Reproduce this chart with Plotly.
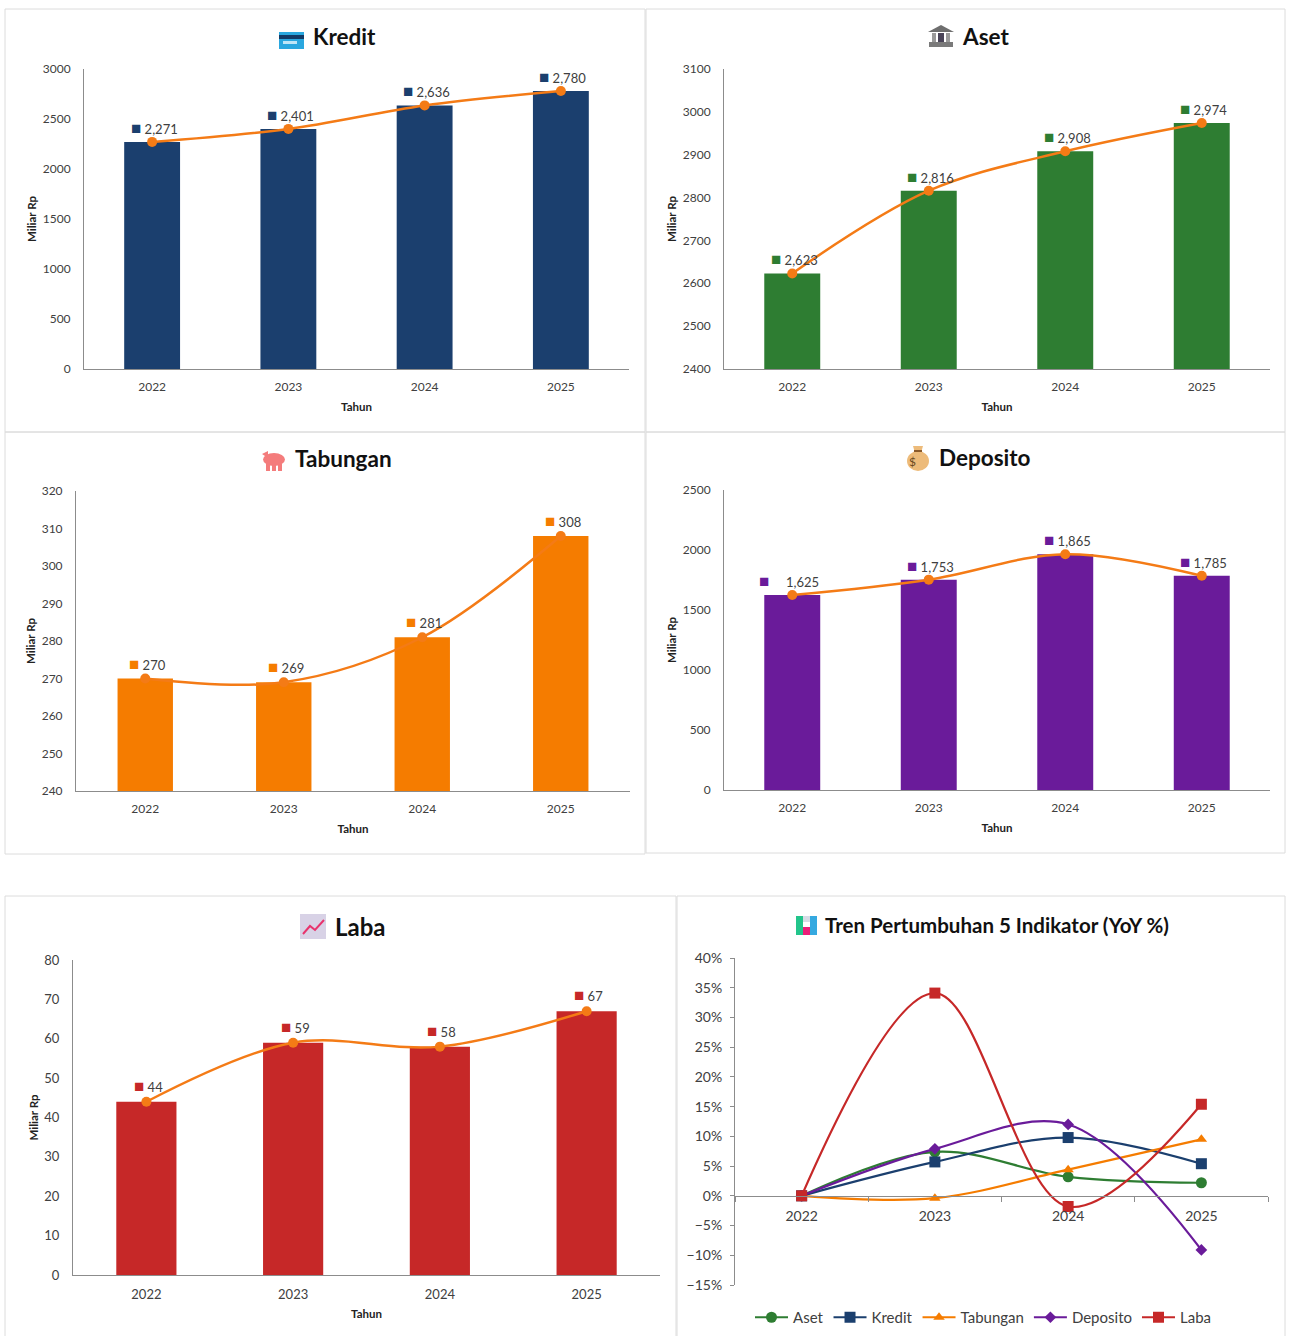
import plotly.graph_objects as go

W, H = 1290, 1336
FONT = "Lato"
ORANGE = "#F47B16"
TXT = "#404040"
AX = "#8C8C8C"

years = ["2022", "2023", "2024", "2025"]
kredit = [2271, 2401, 2636, 2780]
aset = [2623, 2816, 2908, 2974]
tabungan = [270, 269, 281, 308]
deposito = [1625, 1753, 1965, 1785]
laba = [44, 59, 58, 67]
kredit_labels = ["2,271", "2,401", "2,636", "2,780"]
aset_labels = ["2,623", "2,816", "2,908", "2,974"]
tabungan_labels = ["270", "269", "281", "308"]
deposito_labels = ["1,625", "1,753", "1,865", "1,785"]
laba_labels = ["44", "59", "58", "67"]
g_aset = [0, 7.4, 3.2, 2.2]
g_kredit = [0, 5.7, 9.8, 5.4]
g_tabungan = [0, -0.4, 4.4, 9.5]
g_deposito = [0, 7.9, 12.0, -9.1]
g_laba = [0, 34.1, -1.8, 15.4]


def px(x):
    return x / W


def py(y):
    return 1 - y / H


fig = go.Figure()
shapes = []
annots = []


def rect(x0, y0, x1, y1, fill, line=None, kind="rect"):
    shapes.append(dict(type=kind, xref="paper", yref="paper", x0=px(x0), x1=px(x1), y0=py(y1), y1=py(y0),
                       fillcolor=fill, line=dict(color=line or fill, width=1 if line else 0), layer="above"))


def poly(points, fill=None, line=None, width=1.5):
    path = "M " + " L ".join(f"{px(a):.5f} {py(b):.5f}" for a, b in points)
    if fill:
        path += " Z"
    shapes.append(dict(type="path", xref="paper", yref="paper", path=path,
                       fillcolor=fill or "rgba(0,0,0,0)", line=dict(color=line or fill, width=width if line else 0), layer="above"))


def title(text, x, y, size=22.5):
    annots.append(dict(xref="paper", yref="paper", x=px(x), y=py(y), text=f"<b>{text}</b>", showarrow=False,
                       xanchor="left", yanchor="middle", font=dict(family=FONT, size=size, color="#111111")))


# Panel frames
for x0, y0, x1, y1 in [(5, 9, 645, 432), (646, 9, 1285, 432), (5, 432, 645, 854), (646, 432, 1285, 853), (5, 896, 676, 1340), (677, 896, 1285, 1340)]:
    shapes.append(dict(type="rect", xref="paper", yref="paper", x0=px(x0), x1=px(x1), y0=py(y1), y1=py(y0),
                       fillcolor="rgba(0,0,0,0)", line=dict(color="#DCDCDC", width=1), layer="below"))


def bar_panel(n, values, labels, color, box, yr, dtick, bw, lab_dy, tick_size=12, wide_gap=()):
    xa, ya = f"x{n}", f"y{n}"
    fig.add_trace(go.Bar(x=years, y=values, marker=dict(color=color, line=dict(width=0)), width=bw, xaxis=xa, yaxis=ya, showlegend=False))
    fig.add_trace(go.Scatter(x=years, y=values, mode="lines+markers", line=dict(color=ORANGE, width=2.5, shape="spline", smoothing=1),
                             marker=dict(color=ORANGE, size=10), xaxis=xa, yaxis=ya, showlegend=False))
    x0, y0, x1, y1 = box
    axis = dict(showline=True, linecolor=AX, linewidth=1, showgrid=False, zeroline=False, color=TXT,
                tickfont=dict(family=FONT, size=tick_size, color=TXT))
    fig.update_layout({
        f"xaxis{n}": dict(axis, domain=[px(x0), px(x1)], anchor=ya, type="category", range=[-0.5, 3.5], ticks="", ticklabelstandoff=7,
                          title=dict(text="<b>Tahun</b>", font=dict(family=FONT, size=11.5, color="#222222"), standoff=9)),
        f"yaxis{n}": dict(axis, domain=[py(y1), py(y0)], anchor=xa, range=yr, dtick=dtick, ticks="", ticklabelstandoff=10,
                          title=dict(text="<b>Miliar Rp</b>", font=dict(family=FONT, size=11.5, color="#222222"), standoff=3)),
    })
    for i, (v, lab) in enumerate(zip(values, labels)):
        gap = "\u00a0\u00a0\u00a0\u00a0" if i in wide_gap else ""
        annots.append(dict(xref=xa, yref=ya, x=i, y=v, text=f'<span style="color:{color};font-size:17px">■</span> {gap}{lab}', showarrow=False,
                           xanchor="center", yanchor="bottom", xshift=-3 if gap else 2, yshift=lab_dy,
                           font=dict(family=FONT, size=13, color=TXT)))


bar_panel(1, kredit, kredit_labels, "#1B3F6E", (84, 69, 629, 369), [0, 3000], 500, 0.41, 2)
bar_panel(2, aset, aset_labels, "#2E7D32", (724, 69, 1270, 369), [2400, 3100], 100, 0.41, 2)
bar_panel(3, tabungan, tabungan_labels, "#F57C00", (76, 491, 630, 791), [240, 320], 10, 0.40, 3)
bar_panel(4, deposito, deposito_labels, "#6A1B9A", (724, 490, 1270, 790), [0, 2500], 500, 0.41, 2, wide_gap=(0,))
bar_panel(5, laba, laba_labels, "#C62828", (73, 960, 660, 1275), [0, 80], 10, 0.41, 4, 13)

# Growth panel
series = [
    ("Aset", g_aset, "#2E7D32", "circle", 11),
    ("Kredit", g_kredit, "#1B3F6E", "square", 11),
    ("Tabungan", g_tabungan, "#F57C00", "triangle-up", 10),
    ("Deposito", g_deposito, "#6A1B9A", "diamond", 9),
    ("Laba", g_laba, "#C62828", "square", 11),
]
for name, vals, col, sym, size in series:
    fig.add_trace(go.Scatter(x=years, y=vals, name=name, mode="lines+markers", xaxis="x6", yaxis="y6",
                             line=dict(color=col, width=2.2, shape="spline", smoothing=1),
                             marker=dict(color=col, symbol=sym, size=size)))
fig.update_layout(
    xaxis6=dict(domain=[px(735), px(1268)], anchor="free", position=py(1196), type="category", range=[-0.5, 3.5], tickson="boundaries",
                ticks="outside", ticklen=5, tickcolor=AX, showline=True, linecolor=AX, linewidth=1, showgrid=False,
                zeroline=False, tickfont=dict(family=FONT, size=14, color=TXT), ticklabelstandoff=7),
    yaxis6=dict(domain=[py(1285), py(958)], anchor="x6", range=[-15, 40], dtick=5, ticksuffix="%", ticks="outside", ticklen=4,
                tickcolor=AX, showline=True, linecolor=AX, linewidth=1, showgrid=False, zeroline=False, ticklabelstandoff=5,
                tickfont=dict(family=FONT, size=14, color=TXT)),
    legend=dict(orientation="h", x=px(750), y=py(1301), xanchor="left", yanchor="top", font=dict(family=FONT, size=15, color=TXT),
                itemwidth=33, tracegroupgap=0, bgcolor="rgba(0,0,0,0)"),
)

# Titles and hand-drawn icons
title("Kredit", 311, 36)
rect(279, 32, 304, 49, "#2AA7DF")
rect(279, 35, 304, 39, "#123A66")
rect(283, 41, 297, 44, "#BFE6F7")

title("Aset", 960, 36)
rect(929, 42, 953, 47, "#7A7A7A")
rect(932, 33, 936, 42, "#9A9A9A")
rect(938, 33, 944, 42, "#4A4458")
rect(946, 33, 950, 42, "#9A9A9A")
poly([(928, 32), (941, 25), (954, 32)], fill="#6E6E6E")

title("Tabungan", 293, 458)
rect(263, 453, 285, 466, "#F47C7C", kind="circle")
rect(266, 464, 270, 471, "#F47C7C")
rect(272, 465, 276, 471, "#F47C7C")
rect(278, 464, 282, 471, "#F47C7C")
poly([(262, 454), (268, 451), (268, 458)], fill="#F47C7C")

title("Deposito", 937, 457)
rect(907, 451, 929, 471, "#EDBB7A", kind="circle")
poly([(913, 446), (923, 446), (921, 453), (915, 453)], fill="#EDBB7A")
rect(914, 450, 922, 452, "#8A5A2B")
annots.append(dict(xref="paper", yref="paper", x=px(918), y=py(461), text="$", showarrow=False,
                   font=dict(family=FONT, size=12, color="#6B4A22")))

title("Laba", 333, 926, 24)
rect(300, 914, 326, 939, "#D8D2E6")
poly([(303, 934), (310, 926), (315, 930), (324, 920)], line="#E8336D", width=2)

title("Tren Pertumbuhan 5 Indikator (YoY %)", 823, 925, 20.5)
rect(796, 916, 803, 935, "#22C58B")
rect(803, 927, 810, 935, "#EC1E79")
rect(810, 916, 817, 935, "#35A9E0")
rect(803, 916, 810, 922, "#D7DCE6")

fig.update_layout(shapes=shapes, annotations=annots, width=W, height=H, autosize=False,
                  margin=dict(l=0, r=0, t=0, b=0, autoexpand=False),
                  paper_bgcolor="white", plot_bgcolor="white", hovermode=False,
                  font=dict(family=FONT, color=TXT))
fig.write_html("out.html", post_script="document.body.style.margin='0';window.dispatchEvent(new Event('resize'));",
               config=dict(displayModeBar=False))
